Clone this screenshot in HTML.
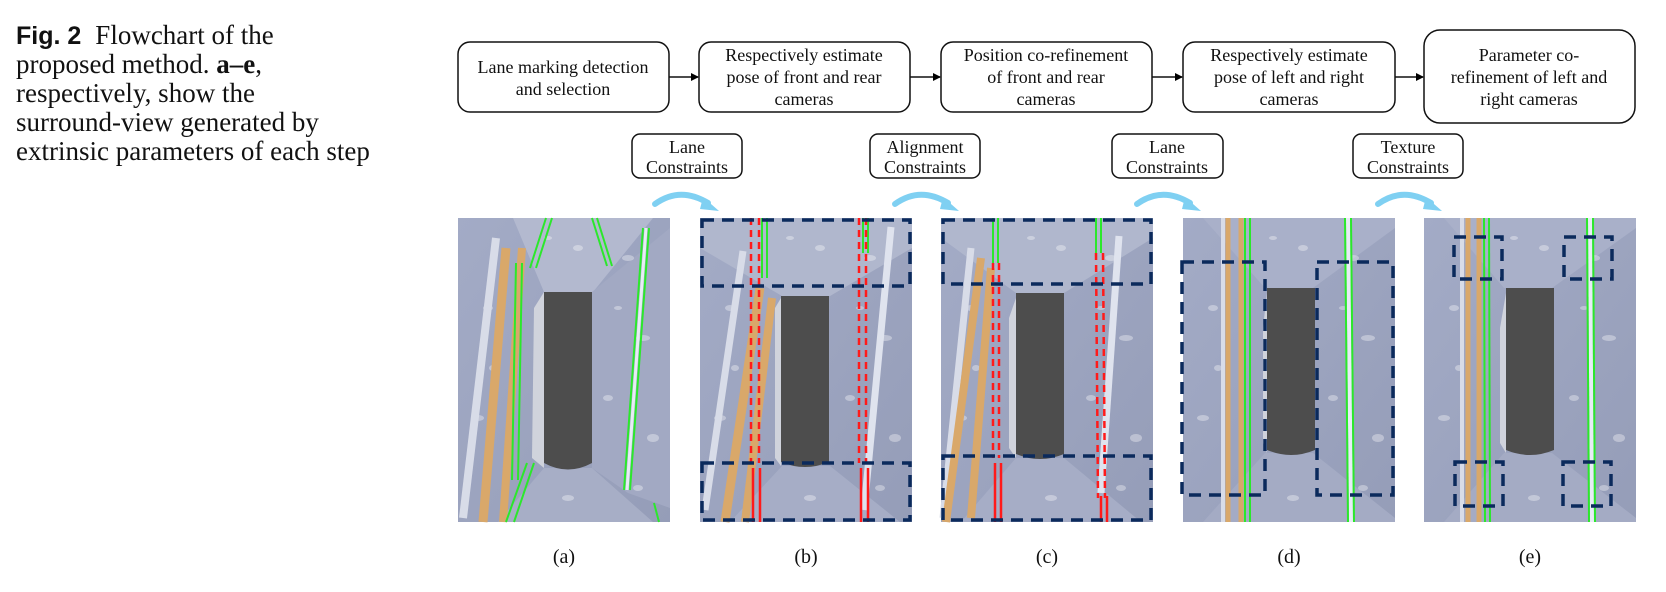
<!DOCTYPE html>
<html><head><meta charset="utf-8"><style>
html,body{margin:0;padding:0;background:#fff;}
svg{display:block;}
</style></head><body>
<svg width="1666" height="592" viewBox="0 0 1666 592" xmlns="http://www.w3.org/2000/svg">
<defs>
<linearGradient id="bg" x1="0" y1="0" x2="1" y2="1">
<stop offset="0" stop-color="#a3abc6"/><stop offset="1" stop-color="#959db8"/>
</linearGradient>
<marker id="ah" markerWidth="8" markerHeight="8" refX="7" refY="4" orient="auto" markerUnits="userSpaceOnUse">
<path d="M0,0 L8,4 L0,8 z" fill="#000"/>
</marker>
<g id="spots" fill="#fff" opacity="0.35">
<ellipse cx="30" cy="90" rx="5" ry="3"/><ellipse cx="170" cy="40" rx="6" ry="3"/><ellipse cx="185" cy="120" rx="7" ry="3"/>
<ellipse cx="150" cy="180" rx="5" ry="3"/><ellipse cx="20" cy="200" rx="6" ry="3"/><ellipse cx="195" cy="220" rx="6" ry="4"/>
<ellipse cx="110" cy="280" rx="6" ry="3"/><ellipse cx="120" cy="30" rx="5" ry="3"/><ellipse cx="180" cy="270" rx="5" ry="3"/>
<ellipse cx="35" cy="150" rx="4" ry="3"/><ellipse cx="90" cy="20" rx="4" ry="2"/><ellipse cx="160" cy="90" rx="4" ry="2"/>
</g>
</defs>

<!-- Caption -->
<g font-family="Liberation Serif, serif" font-size="27" fill="#111">
<text x="16" y="44"><tspan font-family="Liberation Sans, sans-serif" font-weight="bold" font-size="25">Fig. 2</tspan><tspan dx="14">Flowchart of the</tspan></text>
<text x="16" y="73">proposed method. <tspan font-weight="bold">a–e</tspan>,</text>
<text x="16" y="102">respectively, show the</text>
<text x="16" y="131">surround-view generated by</text>
<text x="16" y="160">extrinsic parameters of each step</text>
</g>

<!-- Top flow boxes -->
<g fill="#fff" stroke="#111" stroke-width="1.5">
<rect x="458" y="42" width="211" height="70" rx="12"/>
<rect x="699" y="42" width="211" height="70" rx="12"/>
<rect x="941" y="42" width="211" height="70" rx="12"/>
<rect x="1183" y="42" width="212" height="70" rx="12"/>
<rect x="1424" y="30" width="211" height="93" rx="16"/>
</g>
<g stroke="#111" stroke-width="1.5" marker-end="url(#ah)">
<line x1="669" y1="77" x2="698" y2="77"/>
<line x1="910" y1="77" x2="940" y2="77"/>
<line x1="1152" y1="77" x2="1182" y2="77"/>
<line x1="1395" y1="77" x2="1423" y2="77"/>
</g>
<g font-family="Liberation Serif, serif" font-size="18" fill="#111" text-anchor="middle">
<text x="563" y="73">Lane marking detection</text><text x="563" y="95">and selection</text>
<text x="804" y="61">Respectively estimate</text><text x="804" y="83">pose of front and rear</text><text x="804" y="105">cameras</text>
<text x="1046" y="61">Position co-refinement</text><text x="1046" y="83">of front and rear</text><text x="1046" y="105">cameras</text>
<text x="1289" y="61">Respectively estimate</text><text x="1289" y="83">pose of left and right</text><text x="1289" y="105">cameras</text>
<text x="1529" y="61">Parameter co-</text><text x="1529" y="83">refinement of left and</text><text x="1529" y="105">right cameras</text>
</g>

<!-- Constraint boxes -->
<g fill="#fff" stroke="#111" stroke-width="1.5">
<rect x="632" y="134" width="110" height="44" rx="8"/>
<rect x="870" y="134" width="110" height="44" rx="8"/>
<rect x="1112" y="134" width="111" height="44" rx="8"/>
<rect x="1353" y="134" width="110" height="44" rx="8"/>
</g>
<g font-family="Liberation Serif, serif" font-size="18" fill="#111" text-anchor="middle">
<text x="687" y="153">Lane</text><text x="687" y="173">Constraints</text>
<text x="925" y="153">Alignment</text><text x="925" y="173">Constraints</text>
<text x="1167" y="153">Lane</text><text x="1167" y="173">Constraints</text>
<text x="1408" y="153">Texture</text><text x="1408" y="173">Constraints</text>
</g>

<!-- Blue curved arrows -->
<g fill="none" stroke="#7fd0f2" stroke-width="6" stroke-linecap="round">
<path d="M655,204 Q680,186 708,203"/>
<path d="M895,204 Q920,186 948,203"/>
<path d="M1137,204 Q1162,186 1190,203"/>
<path d="M1378,204 Q1403,186 1431,203"/>
</g>
<g fill="#7fd0f2">
<path d="M703,197 L719,211 L700,209 z"/>
<path d="M943,197 L959,211 L940,209 z"/>
<path d="M1185,197 L1201,211 L1182,209 z"/>
<path d="M1426,197 L1442,211 L1423,209 z"/>
</g>

<!-- Panel a -->
<g transform="translate(458,218)">
<rect width="212" height="304" fill="url(#bg)"/>
<polygon points="55,0 195,0 135,74 86,74" fill="#b3b9cf"/>
<polygon points="86,250 134,250 195,304 40,304" fill="#a7aec6"/>
<polygon points="134,74 212,10 212,290 170,275 134,250" fill="#a2a9c3"/>
<use href="#spots"/>
<line x1="38" y1="20" x2="5" y2="300" stroke="#d8dce8" stroke-width="8"/>
<line x1="48" y1="30" x2="25" y2="304" stroke="#d9a86a" stroke-width="9"/>
<line x1="64" y1="30" x2="45" y2="304" stroke="#d9a86a" stroke-width="8"/>
<line x1="58" y1="45" x2="54" y2="262" stroke="#2be82b" stroke-width="2"/>
<line x1="64" y1="45" x2="60" y2="262" stroke="#2be82b" stroke-width="2"/>
<line x1="88" y1="0" x2="72" y2="50" stroke="#2be82b" stroke-width="2"/>
<line x1="94" y1="0" x2="78" y2="50" stroke="#2be82b" stroke-width="2"/>
<line x1="134" y1="0" x2="149" y2="48" stroke="#2be82b" stroke-width="2"/>
<line x1="139" y1="0" x2="154" y2="48" stroke="#2be82b" stroke-width="2"/>
<line x1="191" y1="10" x2="172" y2="272" stroke="#2be82b" stroke-width="2"/>
<line x1="185" y1="10" x2="166" y2="272" stroke="#2be82b" stroke-width="2"/>
<line x1="188" y1="10" x2="169" y2="272" stroke="#e8ecf5" stroke-width="3"/>
<line x1="48" y1="304" x2="69" y2="245" stroke="#2be82b" stroke-width="2"/>
<line x1="56" y1="304" x2="76" y2="245" stroke="#2be82b" stroke-width="2"/>
<line x1="196" y1="285" x2="201" y2="304" stroke="#2be82b" stroke-width="2"/>
<path d="M76,90 L86,74 L86,250 L74,240 z" fill="#d0d3dc"/>
<path d="M86,74 L134,74 L134,245 Q110,258 86,245 z" fill="#4d4d4d"/>
</g>

<!-- Panel b -->
<g transform="translate(700,218)">
<rect width="212" height="304" fill="url(#bg)"/>
<polygon points="0,0 212,0 212,30 130,78 82,78 0,30" fill="#b0b7cd"/>
<polygon points="82,248 130,248 200,304 30,304" fill="#a6adc6"/>
<use href="#spots"/>
<line x1="43" y1="33" x2="5" y2="292" stroke="#d8dce8" stroke-width="7"/>
<line x1="60" y1="70" x2="25" y2="304" stroke="#d9a86a" stroke-width="9"/>
<line x1="72" y1="80" x2="45" y2="304" stroke="#d9a86a" stroke-width="8"/>
<line x1="191" y1="9" x2="164" y2="292" stroke="#dfe3ee" stroke-width="7"/>
<line x1="62" y1="0" x2="62" y2="60" stroke="#2be82b" stroke-width="2"/>
<line x1="67" y1="0" x2="67" y2="60" stroke="#2be82b" stroke-width="2"/>
<line x1="163" y1="0" x2="163" y2="35" stroke="#2be82b" stroke-width="2"/>
<line x1="168" y1="0" x2="168" y2="35" stroke="#2be82b" stroke-width="2"/>
<g stroke="#ff1a1a" stroke-width="2.5" stroke-dasharray="7 5">
<line x1="51" y1="0" x2="51" y2="245"/><line x1="59" y1="0" x2="59" y2="245"/>
<line x1="159" y1="0" x2="159" y2="245"/><line x1="166" y1="0" x2="166" y2="245"/>
</g>
<g stroke="#ff1a1a" stroke-width="2.5">
<line x1="53" y1="250" x2="53" y2="304"/><line x1="60" y1="250" x2="60" y2="304"/>
<line x1="161" y1="250" x2="161" y2="304"/><line x1="168" y1="250" x2="168" y2="304"/>
</g>
<path d="M75,90 L81,80 L81,248 L75,240 z" fill="#d0d3dc"/>
<path d="M81,78 L129,78 L129,244 Q105,254 81,244 z" fill="#4d4d4d"/>
<g fill="none" stroke="#0b2a5c" stroke-width="3.5" stroke-dasharray="12 8">
<rect x="2" y="2" width="208" height="66"/>
<rect x="2" y="245" width="208" height="57"/>
</g>
</g>

<!-- Panel c -->
<g transform="translate(941,218)">
<rect width="212" height="304" fill="url(#bg)"/>
<polygon points="0,0 212,0 212,20 123,75 75,75 0,20" fill="#b0b7cd"/>
<polygon points="75,240 123,240 200,304 20,304" fill="#a6adc6"/>
<use href="#spots"/>
<line x1="30" y1="30" x2="2" y2="300" stroke="#d8dce8" stroke-width="7"/>
<line x1="40" y1="40" x2="5" y2="304" stroke="#d9a86a" stroke-width="8"/>
<line x1="50" y1="50" x2="30" y2="300" stroke="#d9a86a" stroke-width="8"/>
<line x1="178" y1="18" x2="160" y2="275" stroke="#dfe3ee" stroke-width="7"/>
<line x1="52" y1="0" x2="52" y2="45" stroke="#2be82b" stroke-width="2"/>
<line x1="57" y1="0" x2="57" y2="45" stroke="#2be82b" stroke-width="2"/>
<line x1="155" y1="0" x2="155" y2="35" stroke="#2be82b" stroke-width="2"/>
<line x1="160" y1="0" x2="160" y2="35" stroke="#2be82b" stroke-width="2"/>
<g stroke="#ff1a1a" stroke-width="2.5" stroke-dasharray="7 5">
<line x1="52" y1="45" x2="52" y2="240"/><line x1="58" y1="45" x2="58" y2="240"/>
<line x1="155" y1="35" x2="157" y2="280"/><line x1="162" y1="35" x2="164" y2="280"/>
</g>
<g stroke="#ff1a1a" stroke-width="2.5">
<line x1="54" y1="245" x2="54" y2="304"/><line x1="60" y1="245" x2="60" y2="304"/>
<line x1="160" y1="278" x2="160" y2="304"/><line x1="166" y1="278" x2="166" y2="304"/>
</g>
<path d="M68,100 L75,80 L75,240 L68,230 z" fill="#d0d3dc"/>
<path d="M75,75 L123,75 L123,236 Q99,246 75,236 z" fill="#4d4d4d"/>
<g fill="none" stroke="#0b2a5c" stroke-width="3.5" stroke-dasharray="12 8">
<rect x="2" y="2" width="208" height="64"/>
<rect x="2" y="238" width="208" height="64"/>
</g>
</g>

<!-- Panel d -->
<g transform="translate(1183,218)">
<rect width="212" height="304" fill="url(#bg)"/>
<polygon points="20,0 212,0 212,10 130,70 82,70 20,0" fill="#a9b0c9"/>
<polygon points="82,235 130,235 212,300 212,304 20,304" fill="#a4abc4"/>
<use href="#spots"/>
<line x1="40" y1="0" x2="40" y2="304" stroke="#d8dce8" stroke-width="4"/>
<line x1="45" y1="0" x2="45" y2="304" stroke="#d9a86a" stroke-width="5"/>
<line x1="58" y1="0" x2="58" y2="304" stroke="#d9a86a" stroke-width="5"/>
<line x1="62" y1="0" x2="62" y2="304" stroke="#2be82b" stroke-width="2"/>
<line x1="67" y1="0" x2="67" y2="304" stroke="#2be82b" stroke-width="2"/>
<line x1="165" y1="0" x2="168" y2="304" stroke="#e8ecf5" stroke-width="4"/>
<line x1="162" y1="0" x2="165" y2="304" stroke="#2be82b" stroke-width="2"/>
<line x1="168" y1="0" x2="171" y2="304" stroke="#2be82b" stroke-width="2"/>
<path d="M80,110 L84,75 L84,235 L80,225 z" fill="#d0d3dc"/>
<path d="M84,70 L132,70 L132,232 Q108,242 84,232 z" fill="#4d4d4d"/>
<g fill="none" stroke="#0b2a5c" stroke-width="3.5" stroke-dasharray="12 8">
<rect x="-1" y="44" width="83" height="233"/>
<rect x="134" y="44" width="76" height="233"/>
</g>
</g>

<!-- Panel e -->
<g transform="translate(1424,218)">
<rect width="212" height="304" fill="url(#bg)"/>
<polygon points="20,0 212,0 212,10 128,70 80,70 20,0" fill="#a9b0c9"/>
<polygon points="80,235 128,235 212,300 212,304 20,304" fill="#a4abc4"/>
<use href="#spots"/>
<line x1="38" y1="0" x2="38" y2="304" stroke="#d8dce8" stroke-width="4"/>
<line x1="44" y1="0" x2="44" y2="304" stroke="#d9a86a" stroke-width="5"/>
<line x1="55" y1="0" x2="55" y2="304" stroke="#d9a86a" stroke-width="5"/>
<line x1="60" y1="0" x2="61" y2="304" stroke="#2be82b" stroke-width="2"/>
<line x1="65" y1="0" x2="66" y2="304" stroke="#2be82b" stroke-width="2"/>
<line x1="166" y1="0" x2="168" y2="304" stroke="#e8ecf5" stroke-width="4"/>
<line x1="163" y1="0" x2="165" y2="304" stroke="#2be82b" stroke-width="2"/>
<line x1="169" y1="0" x2="171" y2="304" stroke="#2be82b" stroke-width="2"/>
<path d="M76,110 L82,75 L82,235 L76,225 z" fill="#d0d3dc"/>
<path d="M82,70 L130,70 L130,232 Q106,242 82,232 z" fill="#4d4d4d"/>
<g fill="none" stroke="#0b2a5c" stroke-width="3.5" stroke-dasharray="12 8">
<rect x="30" y="19" width="48" height="42"/>
<rect x="140" y="19" width="48" height="42"/>
<rect x="31" y="244" width="48" height="44"/>
<rect x="139" y="244" width="48" height="44"/>
</g>
</g>

<!-- Panel labels -->
<g font-family="Liberation Serif, serif" font-size="20" fill="#111" text-anchor="middle">
<text x="564" y="563">(a)</text>
<text x="806" y="563">(b)</text>
<text x="1047" y="563">(c)</text>
<text x="1289" y="563">(d)</text>
<text x="1530" y="563">(e)</text>
</g>
</svg>
</body></html>
